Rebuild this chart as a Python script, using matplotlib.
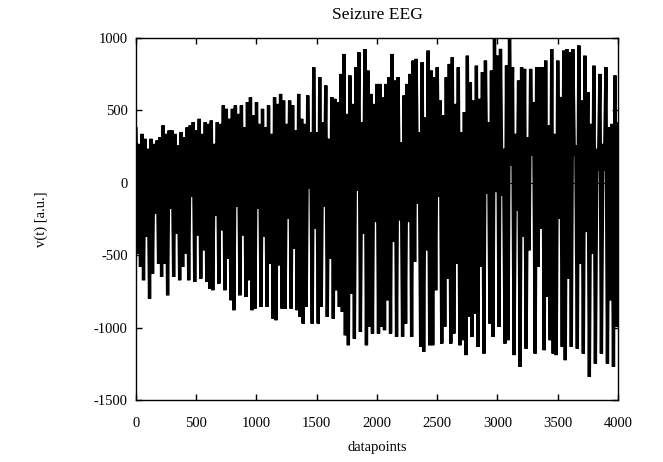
import numpy as np
import matplotlib.pyplot as plt

# local maxima of the trace, one every 25 datapoints
peaks = [
    373, 269, 338, 304, 235, 304, 269, 292, 315, 396, 338, 361, 361, 338, 258, 350, 315, 384, 396, 419,
    361, 442, 338, 419, 407, 430, 269, 419,
    407, 534, 511, 442, 511, 534, 476, 534, 384, 557, 591, 465, 557, 407, 511, 384, 534, 338, 591, 545,
    614, 568, 407, 568, 534, 361, 614,
    442, 407, 603, 350, 798, 350, 730, 419, 672, 304, 591, 580, 557, 752, 890, 476, 741, 545, 798, 901,
    419, 924, 775, 614, 545, 683,
    683, 591, 683, 729, 890, 706, 729, 281, 603, 683, 752, 844, 856, 350, 833, 453, 913, 775, 729, 798,
    568, 465, 729, 821, 867, 545,
    798, 350, 488, 878, 695, 568, 809, 580, 764, 844, 419, 775, 1000, 878, 925, 235, 810, 1000, 798, 338,
    706, 798, 787, 315, 787, 557, 798,
    798, 798, 844, 396, 924, 338, 844, 593, 913, 924, 901, 924, 258, 948, 568, 878, 626, 407, 809, 235,
    752, 269, 798, 384, 407, 741, 407,
]

# local minima, half way between the maxima
troughs = [
    -489, -581, -673, -374, -800, -627, -213, -558, -650, -558, -777, -179, -650, -351, -673, -581, -489,
    -673, -98, -685, -363, -662, -466, -685, -731, -742, -225, -696,
    -328, -742, -524, -811, -880, -167, -777, -363, -788, -673, -880, -869, -179, -857, -374, -857, -558,
    -938, -949, -570, -869, -869, -248, -869, -455, -880, -926,
    -972, -857, -41, -972, -317, -972, -857, -167, -926, -524, -938, -742, -857, -892, -1053, -1122, -765,
    -1076, -53, -1030, -351, -1122, -995, -1041, -271, -1041,
    -995, -1018, -811, -1041, -409, -1064, -259, -1064, -972, -271, -1064, -547, -144, -1133, -1168, -466,
    -1122, -1122, -742, -98, -1110, -995, -662, -1110, -1041, -558,
    -1122, -1087, -1190, -926, -1064, -903, -1133, -581, -1179, -75, -972, -1064, -64, -995, -87, -1110,
    -1087, 120, -1190, -190, -1271, -374, -1145, -466, 189, -1179, -581,
    -317, -1156, -788, -1087, -1179, -1190, -248, -1133, -1225, -662, -1133, 189, -1145, -558, -1179, -340,
    -1340, -489, -1248, 85, -1179, 85, -1248, -811, -1271, -995,
]

x_ticks = [0, 500, 1000, 1500, 2000, 2500, 3000, 3500, 4000]
y_ticks = [-1500, -1000, -500, 0, 500, 1000]

signal = np.empty(len(peaks) + len(troughs))
signal[0::2] = peaks
signal[1::2] = troughs
datapoints = np.linspace(0, 4000, len(signal))

plt.rcParams['font.family'] = ['Liberation Serif', 'DejaVu Serif']
plt.rcParams['font.size'] = 10.5
plt.rcParams['axes.unicode_minus'] = False

fig = plt.figure(figsize=(6.63, 4.62), dpi=100)
ax = fig.add_axes([0.2051, 0.1342, 0.727, 0.7835])

ax.axhline(0, color='black', lw=0.8, zorder=0)
ax.plot(datapoints, signal, color='black', lw=2.4, solid_joinstyle='bevel')

ax.set_xlim(0, 4000)
ax.set_ylim(-1500, 1000)
ax.set_xticks(x_ticks)
ax.set_yticks(y_ticks)
ax.tick_params(direction='in', top=True, right=True, length=4, width=1)
ax.tick_params(axis='x', pad=12)
ax.tick_params(axis='y', pad=6)
for s in ax.spines.values():
    s.set_linewidth(1.0)

ax.set_title('Seizure EEG', pad=14)
ax.set_xlabel('datapoints', labelpad=8)
ax.set_ylabel('v(t) [a.u.]', labelpad=33)

plt.savefig('out.png', dpi=100)
plt.close()
